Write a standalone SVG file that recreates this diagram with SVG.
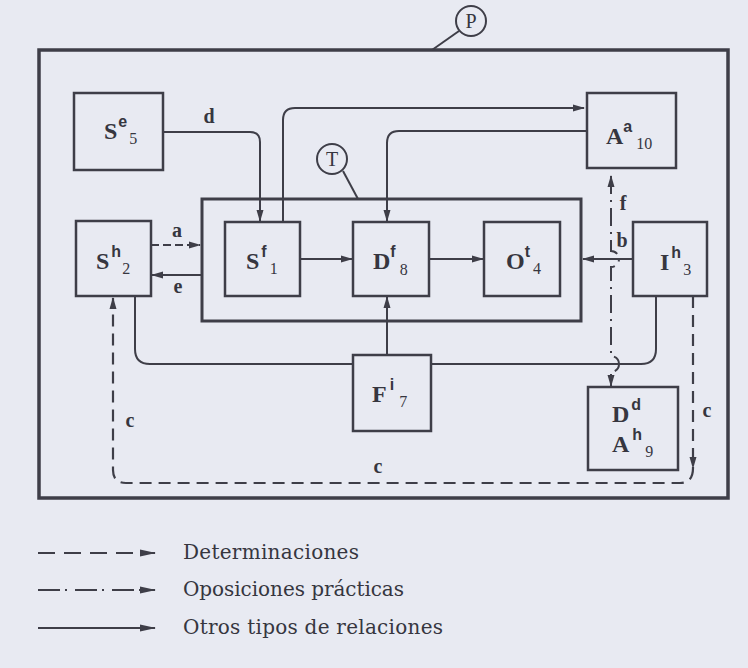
<svg xmlns="http://www.w3.org/2000/svg" width="748" height="668" viewBox="0 0 748 668">
<style>
  .bg{fill:#e8eaf2}
  .frame{fill:none;stroke:#3e3e48;stroke-width:3.5}
  .tbox{fill:none;stroke:#3e3e48;stroke-width:3}
  .box{fill:#e8eaf2;stroke:#3e3e48;stroke-width:2.5}
  .ln{fill:none;stroke:#3e3e48;stroke-width:2}
  .dash{fill:none;stroke:#3e3e48;stroke-width:2.2;stroke-dasharray:8 4}
  .dashc{fill:none;stroke:#3e3e48;stroke-width:2.2;stroke-dasharray:12 7}
  .dd{fill:none;stroke:#3e3e48;stroke-width:2;stroke-dasharray:18 6 2 6}
  .circ{fill:#e8eaf2;stroke:#3e3e48;stroke-width:2}
  .lbl{font-family:"Liberation Serif",serif;fill:#36363f}
  .m{font-family:"Liberation Serif",serif;font-weight:bold;font-size:24px}
  .sp{font-family:"Liberation Sans",sans-serif;font-weight:bold;font-size:16px}
  .sb{font-family:"Liberation Serif",serif;font-size:16px}
  .el{font-family:"Liberation Serif",serif;font-weight:bold;font-size:20px;fill:#36363f;text-anchor:middle}
  .cl{font-family:"Liberation Serif",serif;font-size:20px;fill:#36363f;text-anchor:middle}
  .lg{font-family:"DejaVu Serif",serif;font-size:20px;fill:#36363f}
</style>
<defs>
  <marker id="ah" viewBox="0 0 12 8" refX="11" refY="4" markerWidth="12" markerHeight="8" markerUnits="userSpaceOnUse" orient="auto-start-reverse">
    <path d="M0,0.5 L12,4 L0,7.5 z" fill="#3e3e48"/>
  </marker>
  <marker id="ahL" viewBox="0 0 16 8" refX="15" refY="4" markerWidth="16" markerHeight="8" markerUnits="userSpaceOnUse" orient="auto">
    <path d="M0,0.5 L16,4 L0,7.5 z" fill="#3e3e48"/>
  </marker>
</defs>
<rect class="bg" x="0" y="0" width="748" height="668"/>

<g id="P">
  <rect class="frame" x="39" y="50" width="689" height="448"/>
  <line class="ln" x1="432" y1="50" x2="459" y2="31"/>
  <circle class="circ" cx="471" cy="21" r="15"/>
  <text class="cl" x="471" y="28">P</text>
</g>

<g id="T">
  <rect class="tbox" x="202" y="199" width="379" height="122"/>
  <line class="ln" x1="343" y1="171" x2="358" y2="199"/>
  <circle class="circ" cx="332" cy="159" r="15"/>
  <text class="cl" x="332" y="166">T</text>
</g>

<g id="connectors">
  <path class="ln" d="M163,132 H250 Q260,132 260,142 V221" marker-end="url(#ah)"/>
  <text class="el" x="209" y="123">d</text>
  <path class="ln" d="M283,222 V120 Q283,108 295,108 H584" marker-end="url(#ah)"/>
  <path class="ln" d="M587,131 H399 Q387,131 387,143 V221" marker-end="url(#ah)"/>
  <path class="ln" d="M387,355 V297" marker-end="url(#ah)"/>
  <path class="ln" d="M300,259 H352" marker-end="url(#ah)"/>
  <path class="ln" d="M429,259 H483" marker-end="url(#ah)"/>
  <path class="ln" d="M633,259 H583" marker-end="url(#ah)"/>
  <text class="el" x="622" y="247">b</text>
  <path class="dash" d="M151,245 H200" marker-end="url(#ah)"/>
  <text class="el" x="177" y="237">a</text>
  <path class="ln" d="M202,275 H152" marker-end="url(#ah)"/>
  <text class="el" x="178" y="293">e</text>
  <path class="ln" d="M135,296 V349 Q135,364 150,364 H353"/>
  <path class="ln" d="M431,364 H641 Q656,364 656,349 V296"/>
  <path class="dd" d="M611,176 V251 A8,8 0 0 1 611,267 V356 A8,8 0 0 1 611,372 V386" marker-start="url(#ah)" marker-end="url(#ah)"/>
  <text class="el" x="623" y="210">f</text>
  <path class="dashc" d="M693,296 V468" marker-end="url(#ah)"/>
  <path class="dashc" d="M693,468 Q693,483 680,483 H126 Q113,483 113,470 V298" marker-end="url(#ah)"/>
  <text class="el" x="130" y="427">c</text>
  <text class="el" x="707" y="417">c</text>
  <text class="el" x="378" y="473">c</text>
</g>

<g id="S5">
  <rect class="box" x="74" y="93" width="89" height="77"/>
  <text class="lbl" x="104" y="139"><tspan class="m">S</tspan><tspan class="sp" dx="1" dy="-12">e</tspan><tspan class="sb" dx="2" dy="17">5</tspan></text>
</g>
<g id="A10">
  <rect class="box" x="587" y="93" width="89" height="75"/>
  <text class="lbl" x="606" y="144"><tspan class="m">A</tspan><tspan class="sp" dx="0" dy="-12">a</tspan><tspan class="sb" dx="4" dy="17">10</tspan></text>
</g>
<g id="S2">
  <rect class="box" x="76" y="221" width="75" height="75"/>
  <text class="lbl" x="96" y="269"><tspan class="m">S</tspan><tspan class="sp" dx="2" dy="-12">h</tspan><tspan class="sb" dx="1" dy="17">2</tspan></text>
</g>
<g id="S1">
  <rect class="box" x="225" y="222" width="75" height="74"/>
  <text class="lbl" x="246" y="269"><tspan class="m">S</tspan><tspan class="sp" dx="2" dy="-12">f</tspan><tspan class="sb" dx="3" dy="17">1</tspan></text>
</g>
<g id="D8">
  <rect class="box" x="353" y="222" width="76" height="74"/>
  <text class="lbl" x="373" y="269"><tspan class="m">D</tspan><tspan class="sp" dx="0" dy="-12">f</tspan><tspan class="sb" dx="4" dy="18">8</tspan></text>
</g>
<g id="O4">
  <rect class="box" x="484" y="222" width="76" height="74"/>
  <text class="lbl" x="506" y="269"><tspan class="m">O</tspan><tspan class="sp" dx="0" dy="-12">t</tspan><tspan class="sb" dx="3" dy="17">4</tspan></text>
</g>
<g id="I3">
  <rect class="box" x="633" y="222" width="74" height="74"/>
  <text class="lbl" x="660" y="270"><tspan class="m">I</tspan><tspan class="sp" dx="2" dy="-12">h</tspan><tspan class="sb" dx="2" dy="17">3</tspan></text>
</g>
<g id="F7">
  <rect class="box" x="353" y="355" width="78" height="76"/>
  <text class="lbl" x="372" y="402"><tspan class="m">F</tspan><tspan class="sp" dx="3" dy="-12">i</tspan><tspan class="sb" dx="5" dy="17">7</tspan></text>
</g>
<g id="D9">
  <rect class="box" x="588" y="387" width="90" height="83"/>
  <text class="lbl" x="612" y="422"><tspan class="m">D</tspan><tspan class="sp" dx="2" dy="-12">d</tspan></text>
  <text class="lbl" x="612" y="452"><tspan class="m">A</tspan><tspan class="sp" dx="3" dy="-12">h</tspan><tspan class="sb" dx="3" dy="17">9</tspan></text>
</g>

<g id="legend">
  <path class="ln" d="M38,553 H155" style="stroke-dasharray:17 9" marker-end="url(#ahL)"/>
  <text class="lg" x="183" y="559" textLength="176" lengthAdjust="spacing">Determinaciones</text>
  <path class="ln" d="M38,590 H155" style="stroke-dasharray:22 5 2 8" marker-end="url(#ahL)"/>
  <text class="lg" x="183" y="596" textLength="221" lengthAdjust="spacing">Oposiciones prácticas</text>
  <path class="ln" d="M38,628 H155" marker-end="url(#ahL)"/>
  <text class="lg" x="183" y="634" textLength="260" lengthAdjust="spacing">Otros tipos de relaciones</text>
</g>
</svg>
